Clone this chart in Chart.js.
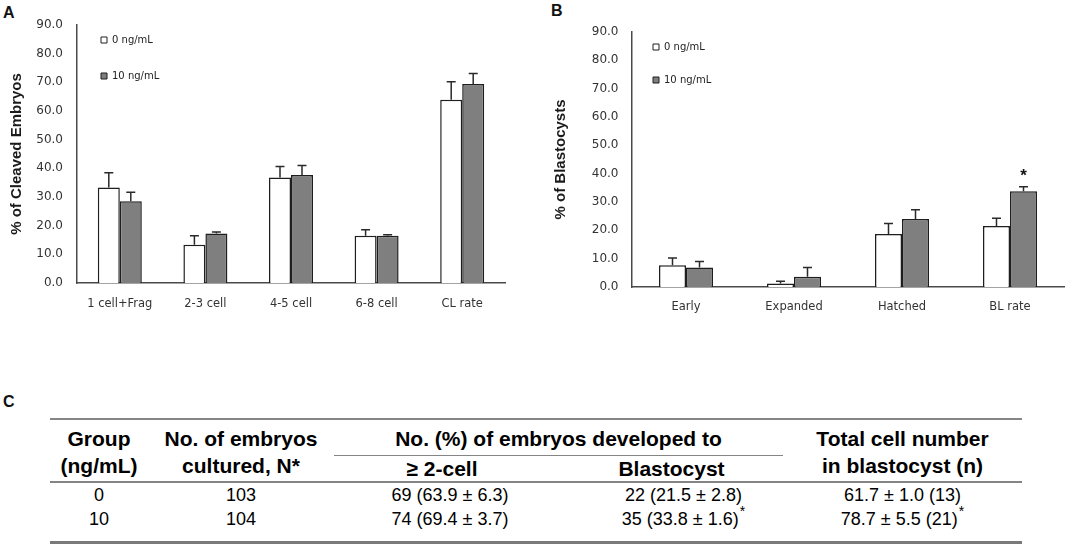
<!DOCTYPE html>
<html>
<head>
<meta charset="utf-8">
<script src="https://cdn.jsdelivr.net/npm/chart.js@4.4.1/dist/chart.umd.min.js"></script>
<style>
html,body{margin:0;padding:0;background:#fff;}
body{width:1065px;height:547px;position:relative;overflow:hidden;font-family:"Liberation Sans",Arial,sans-serif;}
.panel{position:absolute;font-weight:bold;font-size:16px;line-height:16px;color:#111;font-family:"Liberation Sans",Arial,sans-serif;}
#wrapA{position:absolute;left:0;top:0;width:520px;height:320px;}
#wrapB{position:absolute;left:530px;top:0;width:535px;height:320px;}
#tbl{position:absolute;left:50px;top:418px;width:972px;border-collapse:collapse;table-layout:fixed;color:#000;font-family:"Liberation Sans",Arial,sans-serif;}
#tbl th,#tbl td{padding:0;text-align:center;white-space:nowrap;}
#tbl th{font-weight:bold;font-size:21px;line-height:27px;}
#tbl tr.r1 th{border-top:2px solid #858585;}
#tbl th.rs{vertical-align:top;padding-top:5px;border-bottom:2px solid #858585;}
#tbl th.span{vertical-align:top;padding-top:5px;padding-bottom:3px;border-bottom:1.5px solid #858585;}
#tbl tr.r2 th{height:25px;line-height:25px;vertical-align:middle;border-bottom:2px solid #858585;}
#tbl tr.r2 th.c3{padding-right:10px;}
#tbl td{font-size:18px;line-height:25px;vertical-align:top;}
#tbl td.c3{padding-left:6px;}
#tbl td.c4{padding-left:24px;}
#tbl tr.b1 td{line-height:22px;padding-bottom:11px;border-bottom:3px solid #7a7a7a;}
.sup{display:inline-block;position:relative;top:-9px;font-size:14px;line-height:0;margin-left:1px;}
</style>
</head>
<body>
<div class="panel" style="left:3px;top:5px;">A</div>
<div class="panel" style="left:551px;top:3px;">B</div>
<div class="panel" style="left:3px;top:394px;">C</div>
<div id="wrapA"><canvas id="chartA"></canvas></div>
<div id="wrapB"><canvas id="chartB"></canvas></div>
<table id="tbl">
<colgroup><col style="width:98px"><col style="width:186px"><col style="width:226px"><col style="width:223px"><col style="width:239px"></colgroup>
<thead>
<tr class="r1"><th class="rs" rowspan="2">Group<br>(ng/mL)</th><th class="rs" rowspan="2">No. of embryos<br>cultured, N*</th><th class="span" colspan="2">No. (%) of embryos developed to</th><th class="rs" rowspan="2">Total cell number<br>in blastocyst (n)</th></tr>
<tr class="r2"><th class="c3">≥ 2-cell</th><th>Blastocyst</th></tr>
</thead>
<tbody id="tbody"></tbody>
</table>
<script>
// ---- Panel A data ----
const categoriesA = ['1 cell+Frag', '2-3 cell', '4-5 cell', '6-8 cell', 'CL rate'];
const ctrlA = [33.3, 13.3, 36.8, 16.5, 63.9];
const ctrlErrA = [5.2, 3.2, 3.8, 2.1, 6.3];
const trtA = [28.5, 17.3, 37.7, 16.5, 69.4];
const trtErrA = [3.2, 0.5, 3.3, 0.3, 3.7];
// ---- Panel B data ----
const categoriesB = ['Early', 'Expanded', 'Hatched', 'BL rate'];
const ctrlB = [7.7, 1.2, 18.7, 21.5];
const ctrlErrB = [2.5, 0.8, 3.7, 2.8];
const trtB = [6.9, 3.6, 24.0, 33.8];
const trtErrB = [2.1, 3.3, 3.3, 1.6];
const sigB = ['', '', '', '*'];
const seriesLabels = ['0 ng/mL', '10 ng/mL'];
const yMin = 0, yMax = 90, yStep = 10;
// ---- Panel C table ----
const groups = ['0', '10'];
const nCultured = ['103', '104'];
const cleaved = ['69 (63.9 ± 6.3)', '74 (69.4 ± 3.7)'];
const blast = ['22 (21.5 ± 2.8)', '35 (33.8 ± 1.6)'];
const blastSig = ['', '*'];
const cellNum = ['61.7 ± 1.0 (13)', '78.7 ± 5.5 (21)'];
const cellSig = ['', '*'];

// build table body
const tb = document.getElementById('tbody');
groups.forEach((g, i) => {
  const tr = document.createElement('tr');
  tr.className = 'b' + i;
  const cells = [[g, '', ''], [nCultured[i], '', ''], [cleaved[i], '', 'c3'], [blast[i], blastSig[i], 'c4'], [cellNum[i], cellSig[i], '']];
  cells.forEach(([t, s, c]) => {
    const td = document.createElement('td');
    if (c) td.className = c;
    td.appendChild(document.createTextNode(t));
    if (s) { const sp = document.createElement('span'); sp.className = 'sup'; sp.textContent = s; td.appendChild(sp); }
    tr.appendChild(td);
  });
  tb.appendChild(tr);
});

Chart.defaults.font.family = 'DejaVu Sans';
Chart.defaults.color = '#333';

const errorBars = {
  id: 'errorBars',
  afterDatasetsDraw(chart) {
    const ctx = chart.ctx, y = chart.scales.y;
    chart.data.datasets.forEach((ds, i) => {
      if (!ds.errors) return;
      const meta = chart.getDatasetMeta(i);
      ctx.save();
      ctx.strokeStyle = '#2a2a2a';
      ctx.lineWidth = 1.5;
      meta.data.forEach((bar, j) => {
        const e = ds.errors[j];
        const yTop = y.getPixelForValue(ds.data[j] + e);
        ctx.beginPath();
        ctx.moveTo(bar.x, bar.y);
        ctx.lineTo(bar.x, yTop);
        ctx.moveTo(bar.x - 4.5, yTop);
        ctx.lineTo(bar.x + 4.5, yTop);
        ctx.stroke();
        if (ds.sig && ds.sig[j]) {
          ctx.fillStyle = '#111';
          ctx.font = 'bold 17px "Liberation Sans", Arial, sans-serif';
          ctx.textAlign = 'center';
          ctx.textBaseline = 'alphabetic';
          ctx.fillText(ds.sig[j], bar.x, yTop - 6);
        }
      });
      ctx.restore();
    });
  }
};

const legendShift = {
  id: 'legendShift',
  afterLayout(chart, args, opts) {
    const lg = chart.legend;
    if (!lg) return;
    const p = lg.options.labels.padding;
    lg.left = chart.chartArea.left + opts.dx - p;
    lg.top = chart.chartArea.top + opts.dy - 5 - p;
  }
};

function makeChart(id, cats, c, ce, t, te, sig, cfg) {
  return new Chart(document.getElementById(id), {
    type: 'bar',
    data: {
      labels: cats,
      datasets: [
        { label: seriesLabels[0], data: c, errors: ce, backgroundColor: '#ffffff', borderColor: '#1e1e1e', borderWidth: 1.5, borderSkipped: 'bottom' },
        { label: seriesLabels[1], data: t, errors: te, sig: sig, backgroundColor: '#7f7f7f', borderColor: '#1e1e1e', borderWidth: 1.5, borderSkipped: 'bottom' }
      ]
    },
    options: {
      responsive: true,
      maintainAspectRatio: false,
      animation: false,
      events: [],
      datasets: { bar: { categoryPercentage: cfg.cp, barPercentage: 1 } },
      layout: { padding: { left: cfg.padL, right: cfg.padR, top: cfg.padT, bottom: 0 } },
      plugins: {
        tooltip: { enabled: false },
        legend: {
          position: 'chartArea',
          align: 'start',
          labels: {
            boxWidth: 6, boxHeight: 6, padding: cfg.legPad, color: '#222',
            font: { size: 10 },
            generateLabels(chart) {
              return Chart.defaults.plugins.legend.labels.generateLabels(chart).map(l => Object.assign(l, { lineWidth: 1 }));
            }
          }
        },
        legendShift: { dx: cfg.legDx, dy: 15 }
      },
      scales: {
        x: {
          grid: { display: false, drawTicks: false },
          border: { display: true, color: '#4a4a4a', width: 1.5 },
          ticks: { padding: cfg.xPad, color: '#333', font: { size: 11.5 }, maxRotation: 0, autoSkip: false },
          afterFit(s) { s.height = cfg.xH; }
        },
        y: {
          min: yMin, max: yMax,
          grid: { display: false, drawTicks: false },
          border: { display: true, color: '#4a4a4a', width: 1.5 },
          ticks: { stepSize: yStep, padding: cfg.yPad, color: '#333', font: { size: 12 }, callback: v => v.toFixed(1) },
          title: { display: true, text: cfg.title, color: '#1a1a1a', padding: { top: 0, bottom: 0 }, font: { family: '"Liberation Sans", Arial, sans-serif', size: 15, weight: 'bold' } },
          afterFit(s) { s.width = cfg.yW; }
        }
      }
    },
    plugins: [errorBars, legendShift]
  });
}

makeChart('chartA', categoriesA, ctrlA, ctrlErrA, trtA, trtErrA, null,
  { cp: 0.514, padL: 8, padR: 15, padT: 25, xH: 37, xPad: 14, yPad: 14, yW: 69, legPad: 26, legDx: 24, title: '% of Cleaved Embryos' });
makeChart('chartB', categoriesB, ctrlB, ctrlErrB, trtB, trtErrB, sigB,
  { cp: 0.5, padL: 22, padR: 1, padT: 32, xH: 33, xPad: 13, yPad: 13.5, yW: 80, legPad: 23, legDx: 21, title: '% of Blastocysts' });
</script>
</body>
</html>
